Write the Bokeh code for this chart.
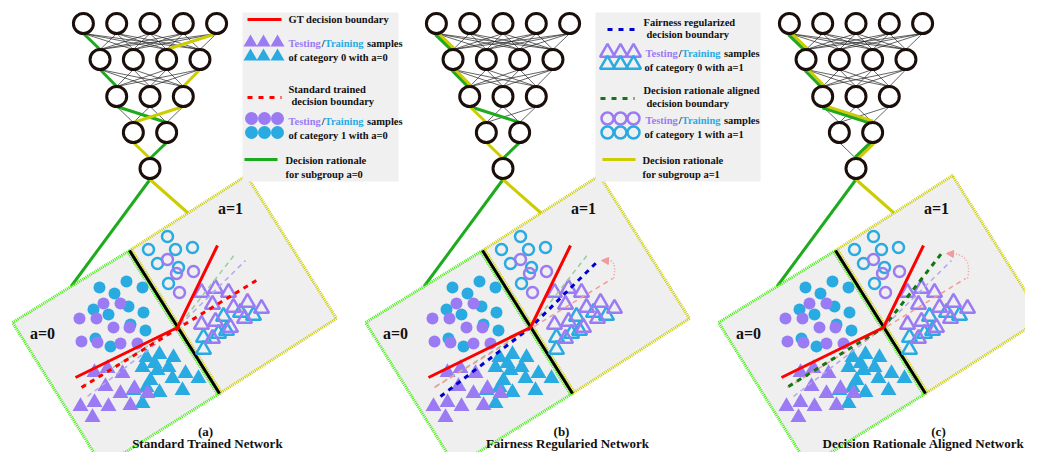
import numpy as np
from bokeh.plotting import figure
from bokeh.models import Range1d, Arrow, NormalHead
from bokeh.embed import file_html
from bokeh.resources import INLINE
from bokeh.core.properties import value

# ---------------- data ----------------
panel_offsets = [0, 353, 706]
panel_letters = ["(a)", "(b)", "(c)"]
panel_titles = ["Standard Trained Network", "Fairness Regularied Network",
                "Decision Rationale Aligned Network"]
layer_sizes = [5, 4, 3, 2, 1]
# highlighted edges (layer, from-node, to-node)
green_edges = [[(0, 0, 0), (1, 0, 0), (2, 0, 1), (3, 1, 0)],
               [(0, 0, 0), (1, 0, 0), (2, 0, 1), (3, 1, 0)],
               [(0, 0, 0), (1, 0, 0), (2, 0, 1), (3, 1, 0)]]
yellow_edges = [[(0, 4, 2), (1, 3, 2), (2, 2, 0), (3, 0, 0)],
                [(0, 0, 0), (1, 0, 0), (2, 0, 0), (3, 0, 0)],
                [(0, 0, 0), (1, 0, 0), (2, 0, 1), (3, 1, 0)]]

# region corners (panel a frame)
g0_x = [12, 129, 219, 102]
g0_y = [322, 250, 393, 466]
g1_x = [129, 246, 336, 219]
g1_y = [250, 175, 318, 393]

# samples, subgroup a=0 (filled)
c1_blue_x = [99, 126, 142, 114, 93, 128, 108, 143, 130, 145, 95, 110]
c1_blue_y = [287, 281, 287, 293, 309, 306, 314, 312, 324, 330, 338, 346]
c1_purp_x = [103, 120, 79, 96, 113, 129, 81, 97, 120, 137]
c1_purp_y = [303, 303, 318, 318, 327, 327, 341, 342, 343, 343]
c0_blue_x = [146, 159, 173, 154, 157, 168, 142, 185, 198, 172, 150, 159, 182, 146, 133, 142]
c0_blue_y = [357, 354, 357, 363, 370, 367, 367, 373, 378, 378, 380, 392, 390, 387, 390, 403]
c0_purp_x = [94, 107, 122, 105, 120, 134, 147, 80, 94, 108, 130, 92]
c0_purp_y = [372, 368, 373, 386, 393, 388, 393, 406, 402, 406, 405, 417]
# samples, subgroup a=1 (open)
o1_blue_x = [167, 148, 175, 192, 157, 178, 168]
o1_blue_y = [236, 249, 249, 247, 263, 267, 283]
o1_purp_x = [167, 176, 193, 179]
o1_purp_y = [259, 273, 271, 292]
o0_blue_x = [223, 240, 253, 203, 218, 226, 203]
o0_blue_y = [316, 312, 315, 337, 333, 330, 349]
o0_purp_x = [201, 215, 228, 212, 233, 247, 261, 201, 215, 230, 244, 212]
o0_purp_y = [292, 288, 292, 304, 307, 302, 308, 324, 321, 327, 318, 338]

# boundaries
gt_x, gt_y = [75, 177, 217], [377, 327, 245]
std_x, std_y = [81, 259], [387, 278]
drg_x, drg_y = [82, 177, 235], [386, 327, 253]      # rationale-aligned boundary
fair_x, fair_y = [87, 177, 245], [396, 327, 260]    # fairness-regularized boundary
arc_b = (260, 278, 265, 256, 249, 260)
arc_c = (261, 278, 267, 252, 241, 253)

# ---------------- styles ----------------
BLUE = "#29ABE2"
PURP = "#9B7BF3"
RED = "#FF0000"
GREEN = "#1DAA1D"
YEL = "#CCCC00"
DGREEN = "#117711"
DBLUE = "#0000CC"
PINK = "#F39A9A"
LGREEN = "#44EE11"
FONT = value("Liberation Serif")

p = figure(width=1025, height=452, x_range=Range1d(0, 1025), y_range=Range1d(452, 0),
           output_backend="svg", toolbar_location=None, min_border=0)
p.axis.visible = False
p.grid.visible = False
p.outline_line_color = None
p.background_fill_color = "white"
p.border_fill_color = "white"

lay_y = [23, 59, 96, 132, 168]
R = 11


def node_pos(off):
    pos = []
    for n, yy in zip(layer_sizes, lay_y):
        pos.append([(149.5 + off + (i - (n - 1) / 2) * 33.3, yy) for i in range(n)])
    return pos


for k, off in enumerate(panel_offsets):
    pos = node_pos(off)
    # thin connections
    xs, ys = [], []
    for L in range(len(layer_sizes) - 1):
        for a in pos[L]:
            for b in pos[L + 1]:
                xs.append([a[0], b[0]])
                ys.append([a[1] + R - 1, b[1] - R + 1])
    p.multi_line(xs, ys, line_color="#222222", line_width=0.7)
    gset = set(green_edges[k])
    yset = set(yellow_edges[k])
    for col, eds, other, sgn in [(GREEN, green_edges[k], yset, 1), (YEL, yellow_edges[k], gset, -1)]:
        for (L, i, j) in eds:
            a, b = pos[L][i], pos[L + 1][j]
            x0, y0, x1, y1 = a[0], a[1] + R - 1, b[0], b[1] - R + 1
            if (L, i, j) in other:
                dx, dy = x1 - x0, y1 - y0
                ln = np.hypot(dx, dy)
                nx, ny = -dy / ln * 1.5 * sgn, dx / ln * 1.5 * sgn
                x0, x1, y0, y1 = x0 + nx, x1 + nx, y0 + ny, y1 + ny
            p.line([x0, x1], [y0, y1], line_color=col, line_width=3)
    # lines from output node to sub-regions
    ox, oy = pos[4][0]
    p.line([ox, (g0_x[0] + g0_x[1]) / 2 + off], [oy + R, (g0_y[0] + g0_y[1]) / 2], line_color=GREEN, line_width=3)
    p.line([ox, (g1_x[0] + g1_x[1]) / 2 + off], [oy + R, (g1_y[0] + g1_y[1]) / 2], line_color=YEL, line_width=3)
    allx = [x for L in pos for (x, _) in L]
    ally = [y for L in pos for (_, y) in L]
    p.scatter(allx, ally, marker="circle", size=20, fill_color="white", line_color="#1A0F0A", line_width=3)

    # regions
    X0 = [x + off for x in g0_x]
    X1 = [x + off for x in g1_x]
    p.patch(X0, g0_y, fill_color="#EFEFEF", line_color=None)
    p.patch(X1, g1_y, fill_color="#EFEFEF", line_color=None)
    p.line(X1 + [X1[0]], g1_y + [g1_y[0]], line_color=YEL, line_width=3, line_dash="1 1")
    p.line(X0 + [X0[0]], g0_y + [g0_y[0]], line_color=LGREEN, line_width=3, line_dash="1 1")
    # shared border: green dots left, yellow dots right of the black divider
    ddx, ddy = X0[2] - X0[1], g0_y[2] - g0_y[1]
    dl = np.hypot(ddx, ddy)
    px_, py_ = -ddy / dl * 2.6, ddx / dl * 2.6
    p.line([X0[1] - px_, X0[2] - px_], [g0_y[1] - py_, g0_y[2] - py_], line_color=YEL, line_width=2, line_dash="1 1")
    p.line([X0[1] + px_, X0[2] + px_], [g0_y[1] + py_, g0_y[2] + py_], line_color=LGREEN, line_width=2, line_dash="1 1")
    p.line([X0[1], X0[2]], [g0_y[1], g0_y[2]], line_color="black", line_width=3)
    p.text([off + 42], [333], text=["a=0"], text_font=FONT, text_font_style="bold",
           text_font_size="16px", text_align="center", text_baseline="middle", text_color="#111111")
    p.text([off + 230], [208], text=["a=1"], text_font=FONT, text_font_style="bold",
           text_font_size="16px", text_align="center", text_baseline="middle", text_color="#111111")

    sh = lambda v: [x + off for x in v]
    # samples
    p.scatter(sh(c1_blue_x), c1_blue_y, marker="circle", size=12, fill_color=BLUE, line_color=None)
    p.scatter(sh(c1_purp_x), c1_purp_y, marker="circle", size=12, fill_color=PURP, line_color=None)
    p.scatter(sh(c0_blue_x), c0_blue_y, marker="triangle", size=16, fill_color=BLUE, line_color=None)
    p.scatter(sh(c0_purp_x), c0_purp_y, marker="triangle", size=16, fill_color=PURP, line_color=None)
    p.scatter(sh(o1_blue_x), o1_blue_y, marker="circle", size=11, fill_color=None, line_color=BLUE, line_width=2.5)
    p.scatter(sh(o1_purp_x), o1_purp_y, marker="circle", size=11, fill_color=None, line_color=PURP, line_width=2.5)
    p.scatter(sh(o0_blue_x), o0_blue_y, marker="triangle", size=15, fill_color=None, line_color=BLUE, line_width=2.5)
    p.scatter(sh(o0_purp_x), o0_purp_y, marker="triangle", size=15, fill_color=None, line_color=PURP, line_width=2.5)

    # boundaries
    if k == 0:
        p.line(sh(drg_x), drg_y, line_color="#9ACD9A", line_width=1.5, line_dash="5 4")
        p.line(sh(fair_x), fair_y, line_color="#B3A8EE", line_width=1.5, line_dash="5 4")
        p.line(sh(std_x), std_y, line_color=RED, line_width=3, line_dash="5 5")
    elif k == 1:
        p.line(sh(drg_x), drg_y, line_color="#9ACD9A", line_width=1.5, line_dash="5 4")
        p.line(sh(std_x), std_y, line_color=PINK, line_width=1.5, line_dash="5 4")
        p.line(sh(fair_x), fair_y, line_color=DBLUE, line_width=3, line_dash="5 5")
    else:
        p.line(sh(fair_x), fair_y, line_color="#B3A8EE", line_width=1.5, line_dash="5 4")
        p.line(sh(std_x), std_y, line_color=PINK, line_width=1.5, line_dash="5 4")
        p.line(sh(drg_x), drg_y, line_color=DGREEN, line_width=3, line_dash="5 5")
    p.line(sh(gt_x), gt_y, line_color=RED, line_width=3)
    if k > 0:
        a = arc_b if k == 1 else arc_c
        p.quadratic(x0=[a[0] + off], y0=[a[1]], cx=[a[2] + off], cy=[a[3]], x1=[a[4] + off], y1=[a[5]],
                    line_color=PINK, line_width=1.5, line_dash="1 2")
        p.add_layout(Arrow(end=NormalHead(size=7, fill_color=PINK, line_color=PINK),
                           x_start=a[4] + off + 2, y_start=a[5] + 0.2, x_end=a[4] + off - 1, y_end=a[5],
                           line_color=PINK, line_width=1))

    # captions
    p.text([off + [205, 208, 232][k]], [431], text=[panel_letters[k]], text_font=FONT, text_font_style="bold",
           text_font_size="13px", text_align="center", text_baseline="middle", text_color="#111111")
    if k < 2:
        cx = [207, 567][k]
        p.text([cx], [443], text=[panel_titles[k]], text_font=FONT, text_font_style="bold",
               text_font_size="13px", text_align="center", text_baseline="middle", text_color="#111111")
    else:
        p.text([822], [443], text=[panel_titles[k]], text_font=FONT, text_font_style="bold",
               text_font_size="13px", text_align="left", text_baseline="middle", text_color="#111111")

# ---------------- legends ----------------
FS = 10.5
WTB = {'T': 667, 'e': 444, 's': 389, 't': 333, 'i': 278, 'n': 556, 'g': 500, '/': 278,
       'r': 444, 'a': 500, ' ': 250, 'm': 833, 'p': 556, 'l': 278}


def tw(s):
    return sum(WTB[c] for c in s) * FS / 1000


def ltext(x, y, s, color="#111111"):
    p.text([x], [y], text=[s], text_font=FONT, text_font_style="bold", text_font_size=f"{FS}px",
           text_align="left", text_baseline="middle", text_color=color)


def testing_line(x, y):
    parts = [("Testing", PURP, 0), ("/", "#111111", 0), ("Training", BLUE, 0), ("samples", "#111111", tw(" "))]
    for s, c, gap in parts:
        x += gap
        ltext(x, y, s, c)
        x += tw(s)


p.quad(left=[242, 595], right=[398, 760], top=[12, 12], bottom=[181, 181], fill_color="#F0F0F0", line_color=None)

# legend 1
p.line([247, 281], [19, 19], line_color=RED, line_width=3)
ltext(288, 19, "GT decision boundary")
p.scatter([250, 263, 277], [42, 42, 42], marker="triangle", size=14, fill_color=PURP, line_color=None)
p.scatter([250, 263, 277], [56, 56, 56], marker="triangle", size=14, fill_color=BLUE, line_color=None)
testing_line(288, 43)
ltext(288, 57, "of category 0 with a=0")
p.line([247, 281], [97, 97], line_color=RED, line_width=3, line_dash="5 6")
ltext(288, 89, "Standard trained")
ltext(291, 101, "decision boundary")
p.scatter([251, 264, 277], [118, 118, 118], marker="circle", size=13, fill_color=PURP, line_color=None)
p.scatter([251, 264, 277], [132, 132, 132], marker="circle", size=13, fill_color=BLUE, line_color=None)
testing_line(288, 121)
ltext(288, 135, "of category 1 with a=0")
p.line([244, 277], [159, 159], line_color=GREEN, line_width=3)
ltext(285, 160, "Decision rationale")
ltext(285, 174, "for subgroup a=0")

# legend 2
p.line([607, 636], [29, 29], line_color=DBLUE, line_width=3, line_dash="5 6")
ltext(643, 22, "Fairness regularized")
ltext(646, 34, "decision boundary")
p.scatter([607, 620, 633], [52, 52, 52], marker="triangle", size=15, fill_color=None, line_color=PURP, line_width=2.5)
p.scatter([607, 620, 633], [64, 64, 64], marker="triangle", size=15, fill_color=None, line_color=BLUE, line_width=2.5)
testing_line(645, 53)
ltext(644, 67, "of category 0 with a=1")
p.line([600, 634], [98, 98], line_color=DGREEN, line_width=3, line_dash="5 6")
ltext(643, 90, "Decision rationale aligned")
ltext(646, 103, "decision boundary")
p.scatter([607, 620, 633], [118, 118, 118], marker="circle", size=12, fill_color=None, line_color=PURP, line_width=2.5)
p.scatter([607, 620, 633], [132, 132, 132], marker="circle", size=12, fill_color=None, line_color=BLUE, line_width=2.5)
testing_line(645, 120)
ltext(644, 134, "of category 1 with a=1")
p.line([602, 635], [159, 159], line_color=YEL, line_width=3)
ltext(642, 160, "Decision rationale")
ltext(642, 174, "for subgroup a=1")

open("out.html", "w").write(file_html(p, INLINE))
